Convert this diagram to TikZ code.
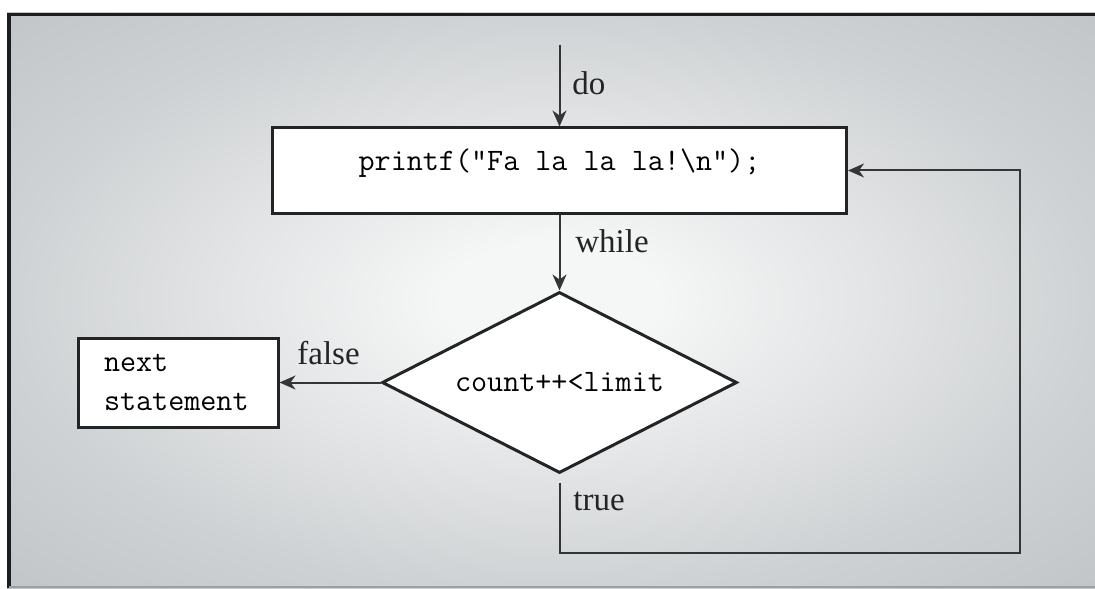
\documentclass[tikz,border=0pt]{standalone}
\usepackage{fontspec}
\setmainfont{Liberation Serif}
\usetikzlibrary{arrows.meta,shapes.geometric}
\definecolor{bgmid}{HTML}{F5F6F6}
\definecolor{bgedge}{HTML}{CFD2D4}
\definecolor{bgcorner}{HTML}{C1C5C7}
\definecolor{ink}{HTML}{222426}
\definecolor{wire}{HTML}{333537}
\definecolor{frame}{HTML}{1B1D1F}
\pgfdeclareradialshading{bgshade}{\pgfpoint{0bp}{0bp}}{color(0bp)=(bgmid); color(5bp)=(bgmid); color(25bp)=(bgedge); color(36bp)=(bgcorner); color(50bp)=(bgcorner)}
\begin{document}
\begin{tikzpicture}[x=0.5pt,y=-0.5pt,
  codebox/.style={draw=ink, line width=1.5pt, fill=white, inner sep=0pt,
    font=\ttfamily\fontsize{15.6}{19.5}\selectfont},
  decision/.style={diamond, shape aspect=1.96, draw=ink, line width=1.5pt, fill=white, inner sep=0pt,
    font=\ttfamily\fontsize{15.6}{19.5}\selectfont},
  conn/.style={draw=wire, line width=1pt, -{Stealth[length=8pt,width=7pt,inset=2.5pt]}},
  lbl/.style={font=\fontsize{16.5}{19.8}\selectfont, text=ink, inner sep=0pt}]
\useasboundingbox (0,0) rectangle (1095,588);
\fill[white] (0,0) rectangle (1095,588);
\shade[shading=bgshade] (7,13) rectangle (1095,588);
\draw[frame, line width=1.75pt] (1095,14.5) -- (9,14.5) -- (9,588);
\draw[gray!75, line width=0.6pt] (9,587) -- (1095,587);

\node[codebox, minimum width=287pt, minimum height=42.5pt,
      text height=0.5em, text depth=0.5em] (pbox) at (559.5,170.5) {printf("Fa la la la!\textbackslash n");};
\node[decision, minimum width=177.5pt, minimum height=90.5pt] (cond) at (559.5,382.5) {count++<limit};
\node[codebox, minimum width=100pt, minimum height=44.5pt, align=left, text width=74pt] (next) at (178,382.5) {next\\statement};

\coordinate (start) at (559.5,45);
\coordinate (corner) at (1020,553);

\draw[conn] (start) -- (pbox);
\draw[conn] (pbox) -- (cond);
\draw[conn] (cond) -- (next);
\draw[conn, shorten <=4pt] (cond.south) |- (corner) |- (pbox.east);

\node[lbl, anchor=base west] (ldo) at (572,95) {do};
\node[lbl, anchor=base west] (lwhile) at (575,252) {while};
\node[lbl, anchor=base west] (lfalse) at (297,364) {false};
\node[lbl, anchor=base west] (ltrue) at (573,510) {true};
\end{tikzpicture}
\end{document}
